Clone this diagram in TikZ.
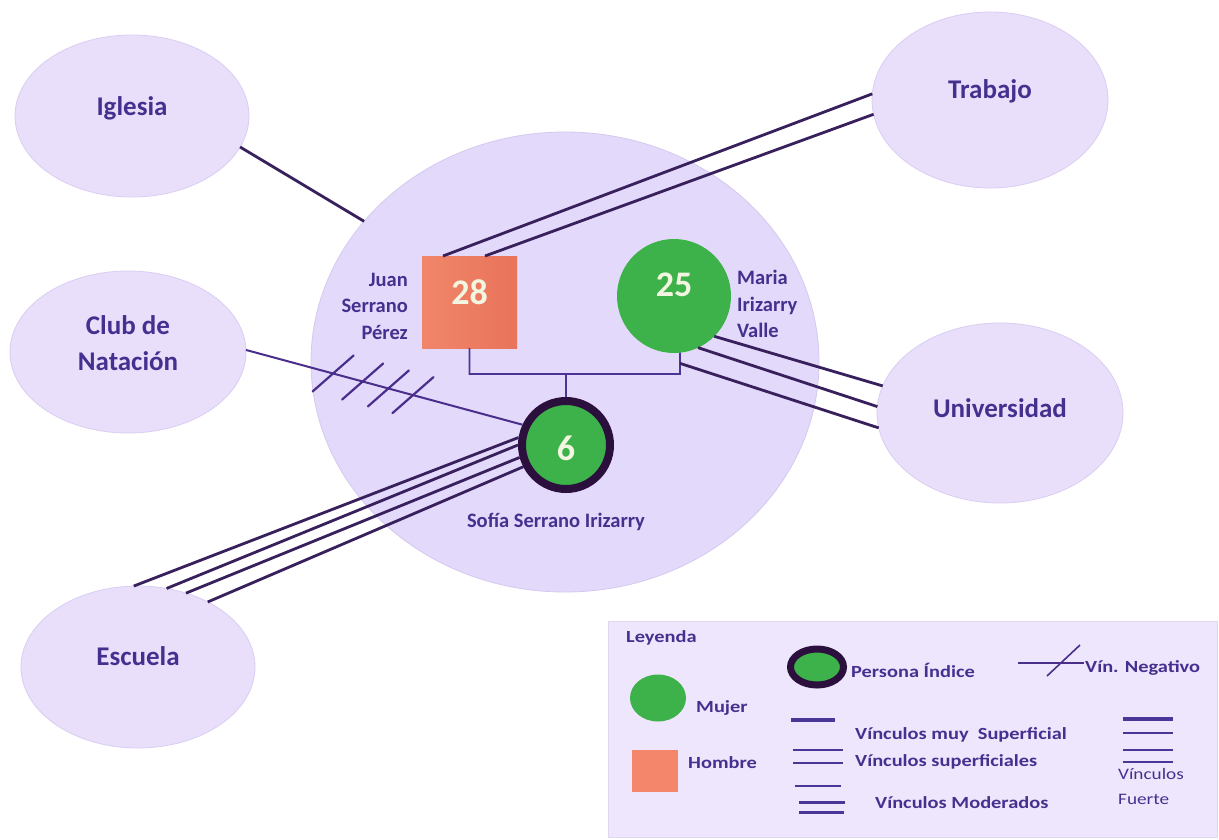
\documentclass[tikz,border=0pt]{standalone}
\usepackage{fontspec}
\setmainfont{Carlito}
\newfontfamily\legendfont[FakeStretch=1.2]{Carlito}
\usetikzlibrary{shapes.geometric}

\definecolor{placefill}{HTML}{E9DFFB}
\definecolor{placeedge}{HTML}{D9CEF1}
\definecolor{netfill}{HTML}{E3D9FA}
\definecolor{netedge}{HTML}{D5C9EF}
\definecolor{ink}{HTML}{46308F}
\definecolor{tiecol}{HTML}{37205C}
\definecolor{tiebright}{HTML}{4A2E8C}
\definecolor{bondcol}{HTML}{4C3494}
\definecolor{femgreen}{HTML}{3DB24A}
\definecolor{salmonA}{HTML}{F0866A}
\definecolor{salmonB}{HTML}{E9735A}
\definecolor{salmonleg}{HTML}{F4876B}
\definecolor{numtext}{HTML}{F2F6E0}
\definecolor{ring}{HTML}{2B0F3C}
\definecolor{legfill}{HTML}{EEE6FC}
\definecolor{legedge}{HTML}{E0D6F0}
\definecolor{legline}{HTML}{4B3596}

\tikzset{
  place/.style={ellipse, draw=placeedge, line width=0.8pt, fill=placefill,
    inner sep=0pt, outer sep=0pt},
  placelabel/.style={font=\bfseries\fontsize{27}{36}\selectfont, text=ink, align=center},
  network/.style={ellipse, draw=netedge, line width=0.8pt, fill=netfill,
    inner sep=0pt, outer sep=0pt, minimum width=508pt, minimum height=460pt},
  ageman/.style={rectangle, inner sep=0pt, outer sep=0pt, minimum width=95pt,
    minimum height=92pt, left color=salmonA, right color=salmonB},
  agewoman/.style={circle, fill=femgreen, inner sep=0pt, outer sep=0pt, minimum size=114pt},
  indexwoman/.style={circle, fill=femgreen, draw=ring, line width=8pt, inner sep=0pt,
    minimum size=88pt},
  age/.style={font=\bfseries\fontsize{36}{40}\selectfont, text=numtext},
  who/.style={font=\bfseries\fontsize{20.5}{26.5}\selectfont, text=ink, inner sep=0pt},
  tie/.style={draw=tiecol, line width=2.8pt},
  negtie/.style={draw=tiebright, line width=2pt},
  hatch/.style={draw=tiebright, line width=2.2pt, line cap=round},
  bond/.style={draw=bondcol, line width=1.8pt},
  legbox/.style={rectangle, draw=legedge, line width=0.8pt, fill=legfill, inner sep=0pt,
    minimum width=609pt, minimum height=216pt},
  legtext/.style={font=\legendfont\bfseries\fontsize{17}{20}\selectfont, text=ink,
    inner sep=0pt, anchor=west},
  legsmall/.style={font=\legendfont\fontsize{16}{20}\selectfont, text=ink,
    inner sep=0pt, anchor=west},
}

\begin{document}
\begin{tikzpicture}[x=1pt,y=-1pt]
\useasboundingbox (0,0) rectangle (1219,839);
\fill[white] (0,0) rectangle (1219,839);

% household circle and the surrounding systems
\node[network] (network) at (565,362) {};
\node[place, minimum width=234pt, minimum height=162pt,
  label={[placelabel,yshift=8pt]center:Iglesia}] (iglesia) at (132,116) {};
\node[place, minimum width=236pt, minimum height=176pt,
  label={[placelabel,yshift=9pt]center:Trabajo}] (trabajo) at (990,100) {};
\node[place, minimum width=236pt, minimum height=162pt,
  label={[placelabel,yshift=9pt]center:{Club de\\Natación}}] (club) at (128,352) {};
\node[place, minimum width=246pt, minimum height=180pt,
  label={[placelabel,yshift=5pt]center:Universidad}] (univ) at (1000,413) {};
\node[place, minimum width=234pt, minimum height=162pt,
  label={[placelabel,yshift=11pt]center:Escuela}] (escuela) at (138,667) {};

% family members
\node[ageman, label={[age,yshift=10pt]center:28}] (juan) at (469.5,302) {};
\node[agewoman, label={[age,yshift=11pt]center:25}] (maria) at (674,296) {};
\node[indexwoman, label={[age,yshift=-3pt]center:6}] (sofia) at (566,445) {};

\node[who, anchor=east, align=right] (juanname) at (408,306) {Juan\\Serrano\\Pérez};
\node[who, anchor=west, align=left] (marianame) at (737,304) {Maria\\Irizarry\\Valle};
\node[who] (sofianame) at (556,522) {Sofía Serrano Irizarry};

% parents' bond and child line
\coordinate (br) at (680,374);
\draw[bond] (juan.south) |- (br) -- (maria.-84);
\draw[bond] (sofia.north) -- (sofia.north |- br);
\path (br) -- (maria.-84) coordinate[pos=0.5] (ubr);

% ties to the outside systems
\draw[tie] (iglesia.-16.8) -- (network.145.7);
\draw[tie] ([xshift=-26.5pt]juan.north) -- (trabajo.177.6);
\draw[tie] ([xshift=15.5pt]juan.north) -- (trabajo.187);
\draw[tie] (maria.-45) -- (univ.167.6);
\draw[tie] (maria.-65.6) -- (univ.177);
\draw[tie] (ubr) -- (univ.-173);
\draw[tie] (sofia.171.6) -- (escuela.93.6);
\draw[tie] (sofia.180) -- (escuela.70);
\draw[tie] (sofia.195.8) -- (escuela.57.6);
\draw[tie] (sofia.207) -- (escuela.43.3);

% negative tie with its cross strokes
\draw[negtie] (club.1) -- (sofia.155)
  coordinate[pos=0.315] (h1) coordinate[pos=0.422] (h2)
  coordinate[pos=0.515] (h3) coordinate[pos=0.604] (h4);
\foreach \h in {h1,h2,h3,h4}
  \draw[hatch] ([shift={(-20.5,18)}]\h) -- ([shift={(20.5,-18)}]\h);

% legend
\node[legbox, anchor=north west] (legend) at (608,621) {};
\node[legtext] (leyenda) at (626,638) {Leyenda};

\node[ellipse, fill=femgreen, draw=ring, line width=7pt, inner sep=0pt,
  minimum width=53pt, minimum height=36pt] (legindex) at (817,667) {};
\node[legtext] (legindextext) at (851,670) {Persona Índice};

\draw[tiebright, line width=1.6pt] (1018,663) -- (1084,663);
\draw[tiebright, line width=1.6pt] (1047,676) -- (1080,645);
\node[legtext] (legneg) at (1085,668) {Vín. Negativo};

\node[ellipse, fill=femgreen, inner sep=0pt, minimum width=56pt, minimum height=47pt]
  (legwoman) at (658,698) {};
\node[legtext] (legwomantext) at (696,708) {Mujer};

\node[rectangle, fill=salmonleg, inner sep=0pt, minimum width=46pt, minimum height=42pt]
  (legman) at (655,771) {};
\node[legtext] (legmantext) at (688,763) {Hombre};

\draw[legline, line width=3.5pt] (791,720) -- (835,720);
\node[legtext] (legvery) at (855,735) {Vínculos muy\ \ Superficial};

\draw[legline, line width=1.5pt] (793,750) -- (843,750);
\draw[legline, line width=1.5pt] (793,763) -- (843,763);
\node[legtext] (legweak) at (855,762) {Vínculos superficiales};

\draw[legline, line width=1.5pt] (795,786) -- (841,786);
\draw[legline, line width=3pt] (799,802) -- (845,802);
\draw[legline, line width=3pt] (799,812) -- (844,812);
\node[legtext] (legmod) at (875,803) {Vínculos Moderados};

\draw[legline, line width=3.2pt] (1123,719) -- (1173,719);
\draw[legline, line width=2pt] (1123,733) -- (1173,733);
\draw[legline, line width=1.5pt] (1123,750) -- (1173,750);
\draw[legline, line width=1.5pt] (1123,762) -- (1173,762);
\node[legsmall] (legstrong1) at (1118,774) {Vínculos};
\node[legsmall] (legstrong2) at (1118,799) {Fuerte};
\end{tikzpicture}
\end{document}
